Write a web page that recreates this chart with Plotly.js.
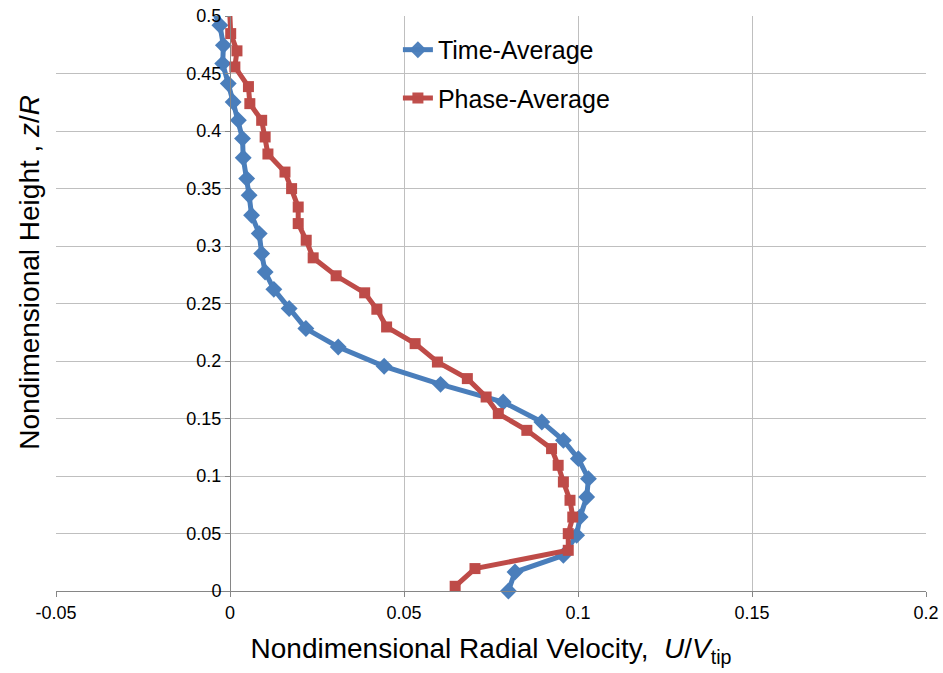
<!DOCTYPE html>
<html>
<head>
<meta charset="utf-8">
<script src="https://cdn.plot.ly/plotly-3.0.1.min.js"></script>
<style>html,body{margin:0;padding:0;background:#fff;}#chart{width:943px;height:673px;}</style>
</head>
<body>
<div id="chart"></div>
<script>
// Time-Average series (radial velocity U/Vtip vs height z/R)
const timeX = [0.0800,0.0819,0.0958,0.0996,0.1006,0.1025,0.1030,0.1001,0.0958,0.0896,0.0785,0.0605,0.0443,0.0311,0.0218,0.0170,0.0126,0.0101,0.0091,0.0084,0.0062,0.0055,0.0048,0.0038,0.0036,0.0024,0.0009,-0.0005,-0.0021,-0.0019,-0.0029,-0.0058];
const timeZ = [0.0000,0.0165,0.0310,0.0484,0.0643,0.0817,0.0977,0.1151,0.1310,0.1470,0.1643,0.1797,0.1954,0.2122,0.2282,0.2456,0.2623,0.2774,0.2934,0.3108,0.3267,0.3441,0.3586,0.3767,0.3934,0.4093,0.4252,0.4412,0.4586,0.4745,0.4919,0.5120];
// Phase-Average series
const phaseX = [0.0647,0.0704,0.0972,0.0972,0.0985,0.0977,0.0958,0.0943,0.0924,0.0853,0.0771,0.0736,0.0682,0.0596,0.0532,0.0450,0.0422,0.0387,0.0305,0.0239,0.0219,0.0196,0.0196,0.0177,0.0158,0.0109,0.0101,0.0091,0.0057,0.0053,0.0014,0.0020,0.0002,-0.0002];
const phaseZ = [0.0041,0.0195,0.0354,0.0499,0.0643,0.0789,0.0948,0.1093,0.1238,0.1397,0.1543,0.1687,0.1847,0.1991,0.2151,0.2296,0.2450,0.2593,0.2741,0.2897,0.3050,0.3195,0.3339,0.3499,0.3643,0.3800,0.3948,0.4093,0.4238,0.4386,0.4557,0.4697,0.4847,0.5120];
// Tick labels
const xTickVals = [-0.05,0,0.05,0.1,0.15,0.2];
const xTickText = ['-0.05','0','0.05','0.1','0.15','0.2'];
const yTickVals = [0,0.05,0.1,0.15,0.2,0.25,0.3,0.35,0.4,0.45,0.5];
const yTickText = ['0','0.05','0.1','0.15','0.2','0.25','0.3','0.35','0.4','0.45','0.5'];
const seriesNames = ['Time-Average','Phase-Average'];

const YMAX = 0.5;
const vis = z => z.map(v => v <= YMAX ? 1 : 0);
const FONT = 'Liberation Sans, Arial, sans-serif';

const traces = [
  {x: timeX, y: timeZ, name: seriesNames[0], type: 'scatter', mode: 'lines+markers',
   line: {color: '#4A7EBB', width: 5}, cliponaxis: false,
   marker: {symbol: 'diamond', size: 13, color: '#4A7EBB', opacity: vis(timeZ)}, legend: 'legend'},
  {x: phaseX, y: phaseZ, name: seriesNames[1], type: 'scatter', mode: 'lines+markers',
   line: {color: '#BE4B48', width: 5}, cliponaxis: false,
   marker: {symbol: 'square', size: 11, color: '#BE4B48', opacity: vis(phaseZ)}, legend: 'legend2'}
];

const layout = {
  width: 943, height: 673,
  margin: {l: 56, r: 17, t: 16, b: 82},
  paper_bgcolor: '#fff', plot_bgcolor: '#fff',
  font: {family: FONT, color: '#000', size: 18},
  showlegend: true,
  xaxis: {
    range: [-0.05, 0.2], tickvals: xTickVals, ticktext: xTickText,
    showgrid: true, gridcolor: '#bfbfbf', gridwidth: 1,
    zeroline: false, showline: true, linecolor: '#868686', linewidth: 1,
    ticks: 'outside', ticklen: 5, tickcolor: '#868686',
    tickfont: {family: FONT, size: 18, color: '#000'},
    title: {text: 'Nondimensional Radial Velocity,  <i>U</i>/<i>V</i><sub>tip</sub>',
            font: {family: FONT, size: 28, color: '#000'}, standoff: 16}
  },
  yaxis: {
    range: [0, 0.5], tickvals: yTickVals, ticktext: yTickText,
    anchor: 'free', position: 0.2, side: 'left',
    showgrid: true, gridcolor: '#bfbfbf', gridwidth: 1,
    zeroline: false, showline: true, linecolor: '#868686', linewidth: 1,
    ticks: 'outside', ticklen: 5, tickcolor: '#868686',
    tickfont: {family: FONT, size: 18, color: '#000'}
  },
  legend: {x: 0.393, y: 0.941, xanchor: 'left', yanchor: 'middle', bgcolor: 'rgba(0,0,0,0)',
           font: {family: FONT, size: 25, color: '#000'}},
  legend2: {x: 0.393, y: 0.857, xanchor: 'left', yanchor: 'middle', bgcolor: 'rgba(0,0,0,0)',
           font: {family: FONT, size: 25, color: '#000'}},
  annotations: [{
    text: 'Nondimensional Height , <i>z</i>/<i>R</i>', xref: 'paper', yref: 'paper',
    x: -0.03, y: 0.555, textangle: -90, showarrow: false, xanchor: 'center', yanchor: 'middle',
    font: {family: FONT, size: 28, color: '#000'}
  }]
};

Plotly.newPlot('chart', traces, layout, {displayModeBar: false, staticPlot: true});
</script>
</body>
</html>
